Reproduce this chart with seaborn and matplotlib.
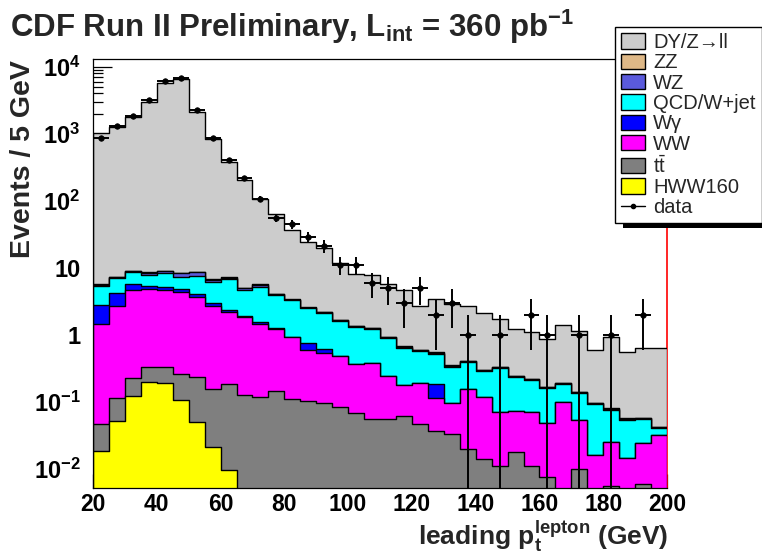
import numpy as np
import pandas as pd
import matplotlib
matplotlib.use("Agg")
import matplotlib.pyplot as plt
import seaborn as sns
from matplotlib.patches import Patch, Rectangle
from matplotlib.lines import Line2D
from matplotlib.ticker import FixedLocator, FixedFormatter, LogLocator, NullFormatter

# 5 GeV bins from 20 to 200 GeV
bin_edges = [float(e) for e in np.arange(20, 201, 5)]
bin_centers = np.arange(22.5, 200, 5)

# expected events per bin, one array per process
hww160 = [0.0186, 0.052, 0.122, 0.197, 0.188, 0.106, 0.050, 0.0213, 0.0095, 0, 0, 0,
          0, 0, 0, 0, 0, 0, 0, 0, 0, 0, 0, 0,
          0, 0, 0, 0, 0, 0, 0, 0, 0, 0, 0, 0]
ttbar = [0.0274, 0.060, 0.106, 0.136, 0.145, 0.153, 0.181, 0.132, 0.173, 0.126, 0.119, 0.146,
         0.110, 0.102, 0.095, 0.084, 0.067, 0.055, 0.055, 0.062, 0.046, 0.037, 0.033, 0.020,
         0.0138, 0.011, 0.018, 0.011, 0.0076, 0, 0.0099, 0, 0.0056, 0, 0.006, 0]
ww = [1.384, 2.598, 4.372, 4.417, 4.267, 4.131, 3.429, 2.527, 2.018, 1.734, 1.341, 1.054,
      0.81, 0.488, 0.435, 0.396, 0.303, 0.325, 0.185, 0.115, 0.142, 0.075, 0.062, 0.133,
      0.105, 0.060, 0.055, 0.060, 0.040, 0.100, 0.043, 0.016, 0.0197, 0.0143, 0.018, 0.0318]
wgamma = [1.34, 1.43, 1.11, 0.64, 0.60, 0.42, 0.34, 0.32, 0.16, 0.05, 0.10, 0.04,
          0, 0.155, 0.09, 0, 0, 0, 0, 0, 0, 0.072, 0, 0,
          0, 0, 0, 0, 0, 0, 0, 0, 0, 0, 0, 0]
qcd_wjet = [2.62, 2.96, 2.79, 2.41, 3.0, 2.49, 3.6, 3.2, 4.34, 2.7, 3.64, 2.67,
            2.34, 1.72, 1.47, 1.13, 0.94, 0.83, 0.65, 0.463, 0.387, 0.336, 0.24, 0.237,
            0.166, 0.249, 0.161, 0.138, 0.1135, 0.084, 0.082, 0.075, 0.0507, 0.0397, 0.0313, 0.0082]
wz = [0.18, 0.17, 0.38, 0.55, 0.62, 0.9, 0.9, 0.45, 0.38, 0.3, 0.33, 0.07,
      0.09, 0.07, 0.065, 0.05, 0.045, 0.037, 0.03, 0.022, 0.018, 0.018, 0.011, 0.014,
      0.009, 0.009, 0.007, 0.0065, 0.005, 0.006, 0.0045, 0.003, 0.0025, 0.0018, 0.0017, 0.0014]
zz = [0.08, 0.08, 0.12, 0.15, 0.18, 0.2, 0.2, 0.15, 0.12, 0.1, 0.12, 0.03,
      0.04, 0.03, 0.025, 0.02, 0.015, 0.013, 0.01, 0.008, 0.007, 0.007, 0.004, 0.006,
      0.003, 0.004, 0.003, 0.0025, 0.002, 0.002, 0.0015, 0.001, 0.001, 0.0007, 0.0007, 0.0006]
dy_zll = [1008, 1238, 1786, 2998, 5640, 6463, 2119, 817, 375, 199, 100.3, 58.7,
          33.2, 21.8, 17.8, 9.9, 6.6, 6.5, 4.8, 4.0, 2.1, 2.85, 2.55, 2.24,
          1.8, 1.37, 0.96, 0.88, 0.68, 1.19, 0.98, 0.505, 0.84, 0.50, 0.57, 0.60]

# observed events per bin
data_counts = [853, 1303, 1837, 3184, 6050, 6855, 2259, 873, 405, 216, 106, 55,
               45, 29, 21, 11, 11, 6, 5, 3, 5, 2, 3, 1,
               0, 1, 0, 2, 1, 0, 1, 0, 1, 0, 2, 0]

# stacking order, bottom to top
processes = ["HWW160", "ttbar", "WW", "Wgamma", "QCD/W+jet", "WZ", "ZZ", "DY/Z->ll"]
process_values = [hww160, ttbar, ww, wgamma, qcd_wjet, wz, zz, dy_zll]
process_colors = ["#ffff00", "#7f7f7f", "#ff00ff", "#0000ff", "#00ffff",
                  "#5a5adc", "#deb887", "#cccccc"]
legend_labels = ["HWW160", r"$\mathrm{t\bar{t}}$", "WW", "W\u03b3", "QCD/W+jet",
                 "WZ", "ZZ", "DY/Z\u2192ll"]

sns.set_theme(style="ticks")
plt.rcParams["font.family"] = ["Liberation Sans", "DejaVu Sans"]
plt.rcParams["mathtext.fontset"] = "custom"
plt.rcParams["mathtext.rm"] = "Liberation Sans"
plt.rcParams["mathtext.it"] = "Liberation Sans:italic"
plt.rcParams["mathtext.bf"] = "Liberation Sans:bold"

frame = pd.DataFrame(dict(zip(processes, process_values)))
stacked = frame[processes].cumsum(axis=1)
stacked["center"] = bin_centers

fig = plt.figure(figsize=(7.62, 5.55), dpi=100)
ax = fig.add_axes([93 / 762, 1 - 487.7 / 555, (667 - 93) / 762, (487.7 - 59.3) / 555])

# draw the stack from the full total down to the lowest layer
for name, color in reversed(list(zip(processes, process_colors))):
    sns.histplot(data=stacked, x="center", weights=name, bins=bin_edges,
                 element="step", fill=True, color=color, edgecolor="black",
                 linewidth=1.0, alpha=1, ax=ax)

# data with Poisson errors
obs = pd.DataFrame({"center": bin_centers, "count": data_counts})
obs = obs[obs["count"] > 0]
ax.errorbar(obs["center"], obs["count"], xerr=2.5, yerr=np.sqrt(obs["count"]),
            fmt="none", ecolor="black", elinewidth=1.4, capsize=0, zorder=5)
sns.scatterplot(data=obs, x="center", y="count", color="black", s=16,
                edgecolor="black", linewidth=0.5, zorder=6, ax=ax, legend=False)

ax.set_yscale("log", nonpositive="clip")
ax.set_xlim(20, 200)
ax.set_ylim(0.0052, 12900)
ax.set_xlabel("")
ax.set_ylabel("")

ax.set_axisbelow(True)
ax.xaxis.set_major_locator(FixedLocator(np.arange(20, 201, 20)))
ax.xaxis.set_minor_locator(FixedLocator(np.arange(20, 201, 5)))
ax.yaxis.set_major_locator(FixedLocator([1e-2, 1e-1, 1, 10, 1e2, 1e3, 1e4]))
ax.yaxis.set_major_formatter(FixedFormatter([
    r"$\mathbf{10^{-2}}$", r"$\mathbf{10^{-1}}$", "1", "10",
    r"$\mathbf{10^{2}}$", r"$\mathbf{10^{3}}$", r"$\mathbf{10^{4}}$"]))
ax.yaxis.set_minor_locator(LogLocator(base=10, subs=np.arange(2, 10), numticks=20))
ax.yaxis.set_minor_formatter(NullFormatter())
ax.tick_params(axis="both", which="both", direction="in", colors="black",
               width=0.9, top=False, right=False)
ax.tick_params(axis="y", which="major", length=14, pad=9, labelsize=17)
ax.tick_params(axis="y", which="minor", length=7)
ax.tick_params(axis="x", which="major", length=10, pad=4, labelsize=16.5)
ax.tick_params(axis="x", which="minor", length=5)
for lab in ax.get_xticklabels() + ax.get_yticklabels():
    lab.set_fontweight("bold")

for side in ["left", "bottom", "top"]:
    ax.spines[side].set_color("black")
    ax.spines[side].set_linewidth(0.9)
ax.spines["right"].set_color("red")
ax.spines["right"].set_linewidth(1.2)
ax.spines["right"].set_zorder(0.7)

# legend: top entry is the top of the stack
handles = [Patch(facecolor=c, edgecolor="black", linewidth=1.0)
           for c in reversed(process_colors)]
labels = list(reversed(legend_labels))
handles.append(Line2D([], [], color="black", marker="o", markersize=3, linewidth=1.0))
labels.append("data")
leg = fig.legend(handles, labels, loc="upper left",
                 bbox_to_anchor=(615 / 762, 1 - 27 / 555), bbox_transform=fig.transFigure,
                 frameon=True, fancybox=False, edgecolor="black", framealpha=1,
                 fontsize=14.5, handlelength=1.2, handleheight=0.8, handletextpad=0.4,
                 labelspacing=0.065, borderpad=0.3, borderaxespad=0)
leg.get_frame().set_linewidth(1.0)

# solid drop shadow under the legend box
fig.canvas.draw()
bb = leg.get_window_extent().transformed(fig.transFigure.inverted())
fig.patches.append(Rectangle((bb.x0 + 8 / 762, bb.y0 - 5 / 555), 1.0, 5 / 555,
                             transform=fig.transFigure, facecolor="black",
                             edgecolor="none", zorder=0))

fig.text(10 / 762, 1 - 36.7 / 555,
         r"CDF Run II Preliminary, L$_{\mathbf{int}}$ = 360 pb$^{\mathbf{-1}}$",
         fontsize=22.5, fontweight="bold", ha="left", va="baseline")
fig.text(23 / 762, 1 - 60 / 555, "Events / 5 GeV", rotation=90, fontsize=20.5,
         fontweight="bold", ha="center", va="top")
fig.text(668 / 762, 1 - 545 / 555, r"leading p$_{\mathbf{t}}^{\mathbf{lepton}}$ (GeV)",
         fontsize=19, fontweight="bold", ha="right", va="baseline")

fig.savefig("out.png", dpi=100)
